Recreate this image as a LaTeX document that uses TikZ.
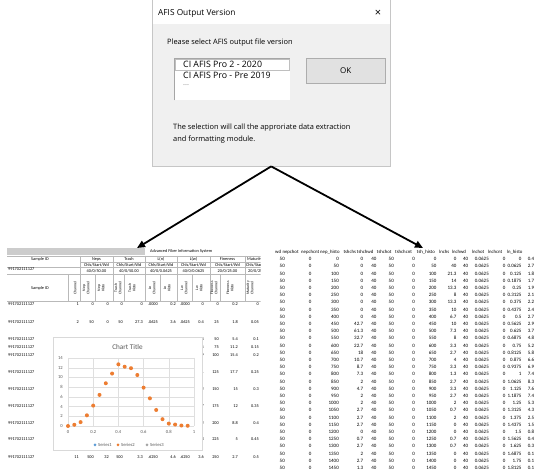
\documentclass[tikz,border=0pt]{standalone}
\usepackage{fontspec}
\setmainfont{Carlito}
\newfontfamily\dlgfont{Open Sans}
\usetikzlibrary{arrows.meta}
\definecolor{dlgback}{HTML}{F0F0F0}
\definecolor{btnback}{HTML}{E1E1E1}
\definecolor{btnline}{HTML}{ADADAD}
\definecolor{serone}{HTML}{5B9BD5}
\definecolor{sertwo}{HTML}{ED7D31}
\definecolor{serthree}{HTML}{A5A5A5}
\definecolor{axtext}{HTML}{595959}

\begin{document}
\begin{tikzpicture}[x=1pt,y=-1pt,
  dlgtext/.style={font=\dlgfont\fontsize{7.4}{12}\selectfont,inner sep=0pt,anchor=west,align=left},
  itemtext/.style={dlgtext,font=\dlgfont\fontsize{8.8}{10}\selectfont},
  xlcell/.style={font=\fontsize{4.3}{5}\selectfont,inner sep=0pt},
  xlnum/.style={xlcell,anchor=east},
  xlrot/.style={xlcell,rotate=90,align=center,font=\fontsize{3.8}{4.2}\selectfont},
  csvcell/.style={font=\fontsize{5}{6}\selectfont,inner sep=0pt,anchor=east},
  csvhead/.style={font=\fontsize{4.8}{6}\selectfont,inner sep=0pt,anchor=west},
  tabline/.style={gray!55,line width=0.3pt},
  chartgrid/.style={gray!25,line width=0.3pt},
  axlabel/.style={font=\fontsize{4.6}{5}\selectfont,text=axtext,inner sep=0pt},
  pick/.style={arrows={-Triangle[length=8pt,width=7pt]},line width=1.8pt}]

\useasboundingbox[fill=white] (0,0) rectangle (550,473);

\node[draw=gray!45,fill=dlgback,minimum width=238pt,minimum height=166pt,anchor=north west,inner sep=0pt] (dlg) at (152,0) {};
\fill[white] (152.5,0.5) rectangle (389.5,24);
\node[dlgtext,font=\dlgfont\fontsize{8.3}{9}\selectfont] (title) at (158,13) {AFIS Output Version};
\node[inner sep=0pt,font=\dlgfont\fontsize{11}{11}\selectfont] (closex) at (378,13) {×};
\node[dlgtext] (prompt) at (167,43) {Please select AFIS output file version};
\node[fill=white,minimum width=116pt,minimum height=42pt,anchor=north west,inner sep=0pt] (lst) at (174,58) {};
\draw[gray!70,line width=0.8pt] (lst.south west) -- (lst.north west) -- (lst.north east);
\node[draw=gray!50,line width=0.4pt,minimum width=114pt,minimum height=11.5pt,anchor=north west,inner sep=0pt] (sel) at (175,59) {};
\node[itemtext] (itema) at (183,64.5) {CI AFIS Pro 2 - 2020};
\node[itemtext] (itemb) at (183,75.5) {CI AFIS Pro - Pre 2019};
\node[dlgtext,text=gray] (itemc) at (183,85) {...};
\node[draw=btnline,fill=btnback,minimum width=79pt,minimum height=25pt,anchor=north west,inner sep=0pt,font=\dlgfont\fontsize{8}{9}\selectfont] (ok) at (306,58) {OK};
\node[dlgtext,anchor=north west] (note) at (173,123.5) {The selection will call the approriate data extraction\\and formatting module.};

\begin{scope}
\clip (0,240) rectangle (260.5,473);
\fill[gray!40] (7,248) rectangle (145,255.5);
\node[xlcell,anchor=west] (afis) at (150,251.5) {Advanced Fiber Information System};
\draw[tabline] (7,256) -- (262,256) (80,262) -- (262,262) (7,267.5) -- (262,267.5) (7,274.5) -- (262,274.5) (7,301) -- (262,301);
\foreach \gx in {80,113,145,177,210,245} \draw[tabline] (\gx,256) -- (\gx,301);
\foreach \gx in {68,95,124,160,192,220} \draw[tabline] (\gx,274.5) -- (\gx,301);
\node[xlcell] (sidtop) at (40,259) {Sample ID};
\node[xlcell,anchor=west] (sidhead) at (8,269.5) {991702111127};
\node[xlcell] (sidtall) at (40,288) {Sample ID};
\foreach \gx/\gname/\gset [count=\k] in {96.5/Neps/40\slash0\slash50.00,129/Trash/40\slash0\slash50.00,161/L(n)/40\slash0\slash0.0625,193.5/L(w)/40\slash0\slash0.0625,227.5/Fineness/20\slash0\slash25.00}{
  \node[xlcell] (grp\k) at (\gx,259) {\gname};
  \node[xlcell] (chls\k) at (\gx,265) {Chls/Start/Wd};
  \node[xlcell] (set\k) at (\gx,271) {\gset};
}
\node[xlcell,anchor=west] (grp6) at (247,259) {Maturity};
\node[xlcell,anchor=west] (chls6) at (246,265) {Chls/Start/Wd};
\node[xlcell,anchor=west] (set6) at (248,271) {20/0/25.00};
\foreach \hx/\hname [count=\k] in {75/Channel,86/{Nep\\Channel},101/{Nep\\Histo},118/{Trash\\Channel},132/{Trash\\Histo},152/{Ln\\Channel},167/{Ln\\Histo},184/{Lw\\Channel},199/{Lw\\Histo},214/{Fineness\\Channel},230/{Fineness\\Histo},250/{Maturity\\Channel}}
  \node[xlrot] (vh\k) at (\hx,288) {\hname};
\foreach \ry [count=\k] in {304,322,339,347,355,372,389,406,423,439,457}
  \node[xlcell,anchor=west] (sid\k) at (8,\ry) {991702111127};
\foreach \ry/\vals in {304/{1,0,0,0,0,.0000,0.2,.0000,0,0,0.2,0},322/{2,50,0,50,27.3,.0625,3.6,.0625,0.4,25,1.8,0.05},457/{11,500,32,500,3.3,.6250,4.6,.6250,3.6,250,2.7,0.5}}
  \foreach \v [count=\c] in \vals {
    \pgfmathsetmacro\colx{{79,94,109,123,143,158,176,190,204,219,238,259}[\c-1]}
    \node[xlnum] (cell\ry-\c) at (\colx,\ry) {\v};
  }
\foreach \ry/\vals in {339/{0.4,50,5.4,0.1},347/{0.5,75,11.2,0.15},355/{0.9,100,15.4,0.2},372/{1,125,17.7,0.25},389/{1.2,150,15,0.3},406/{1.7,175,12,0.35},423/{2.2,200,8.8,0.4},439/{2.8,225,5,0.45}}
  \foreach \v [count=\c] in \vals {
    \pgfmathsetmacro\colx{{204,219,238,259}[\c-1]}
    \node[xlnum] (cell\ry-\c) at (\colx,\ry) {\v};
  }
\end{scope}

\node[draw=gray!30,fill=white,minimum width=149pt,minimum height=113pt,anchor=north west,inner sep=0pt] (chart) at (53,337) {};
\node[font=\fontsize{7.2}{8}\selectfont,text=axtext,inner sep=0pt] (ctitle) at (127.5,347) {Chart Title};
\foreach \gy in {0,2,...,14}{
  \draw[chartgrid] (68,{426-4.857*\gy}) -- (194,{426-4.857*\gy});
  \node[axlabel,anchor=east] (ylab\gy) at (63,{426-4.857*\gy}) {\gy};
}
\foreach \gx [count=\k] in {0,0.2,0.4,0.6,0.8,1}{
  \draw[chartgrid] ({68+126*\gx},358) -- ({68+126*\gx},426);
  \node[axlabel] (xlab\k) at ({68+126*\gx},432) {\gx};
}
\foreach \px/\py [count=\k] in {0/0,0.05/0.25,0.1/0.8,0.15/2.2,0.2/4.2,0.25/6.4,0.3/8.8,0.35/10.8,0.4/12.7,0.45/12.2,0.5/11.9,0.55/10.5,0.6/7.9,0.65/5.7,0.7/3.3,0.75/1.4,0.8/0.5,0.85/0.3,0.9/0.1,0.95/0.05}
  \fill[sertwo] ({68+126*\px},{426-4.857*\py}) circle (2);
\fill[serone] (95,445) circle (1.5);
\node[axlabel,anchor=west] (leg1) at (98,445) {Series1};
\fill[sertwo] (118,445) circle (1.5);
\node[axlabel,anchor=west] (leg2) at (121,445) {Series2};
\fill[serthree] (147,445) circle (1.5);
\node[axlabel,anchor=west] (leg3) at (150,445) {Series3};

\foreach \hx/\hname [count=\k] in {275/wd,282.3/nepchot,301/nepchcnt,320/nep\_histo,343.3/tshchs,356.7/tshchwd,376.7/tshchot,395/tshchcnt,416.7/tsh\_histo,439/lnchs,451.7/lnchwd,471.7/lnchot,487.7/lnchcnt,506.7/ln\_histo}
  \node[csvhead] (csvh\k) at (\hx,252) {\hname};
\foreach \r/\nh/\th/\lc/\lh [count=\i from 0] in {0/0/0/0/0.4,50/0/40/0.0625/2.7,100/0/21.3/0.125/1.8,150/0/14/0.1875/1.7,200/0/13.3/0.25/1.9,250/0/8/0.3125/2.1,300/0/13.3/0.375/2.2,350/0/10/0.4375/2.4,400/0/6.7/0.5/2.7,450/42.7/10/0.5625/2.9,500/61.3/7.3/0.625/3.7,550/32.7/8/0.6875/4.8,600/22.7/3.3/0.75/5.2,650/18/2.7/0.8125/5.8,700/10.7/4/0.875/6.6,750/8.7/3.3/0.9375/6.9,800/7.3/1.3/1/7.4,850/2/2.7/1.0625/8.3,900/4.7/3.3/1.125/7.6,950/2/2.7/1.1875/7.4,1000/2/2/1.25/5.3,1050/2.7/0.7/1.3125/4.3,1100/2.7/2/1.375/2.5,1150/2.7/0/1.4375/1.5,1200/0/0/1.5/0.8,1250/0.7/0.7/1.5625/0.4,1300/2.7/0.7/1.625/0.3,1350/2/0/1.6875/0.1,1400/2.7/0/1.75/0.1,1450/1.3/0/1.8125/0.1}{
  \pgfmathsetmacro\ry{259+7.2*\i}
  \foreach \v/\cx [count=\c] in {50/285,0/311.7,\r/339,\nh/363.3,40/376.7,50/394,0/415,\r/436.7,\th/456.7,40/468.3,0.0625/489,0/505.7,\lc/521.7,\lh/534.3}
    \node[csvcell] (csv\i-\c) at (\cx,\ry) {\v};
}

\coordinate (lefttip) at (137,248);
\coordinate (righttip) at (423,248);
\draw[pick] (dlg.south) -- (lefttip);
\draw[pick] (dlg.south) -- (righttip);
\end{tikzpicture}
\end{document}
